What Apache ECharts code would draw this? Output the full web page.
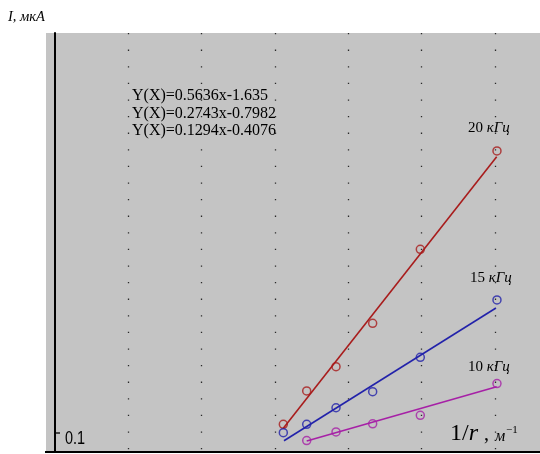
<!DOCTYPE html>
<html><head><meta charset="utf-8">
<script src="https://cdn.jsdelivr.net/npm/echarts@6/dist/echarts.min.js"></script>
<style>html,body{margin:0;padding:0;background:#fff}#c{width:540px;height:454px}</style>
</head><body><div id="c"></div>
<script>
// Measured points (x = 1/r, m^-1 ; y = I, µA)
const xRB = [3.115, 3.434, 3.834, 4.334, 4.984, 6.03];
const xM = [3.434, 3.834, 4.334, 4.984, 6.03];
const red = [0.099, 0.302, 0.450, 0.714, 1.164, 1.763];
const blue = [0.048, 0.099, 0.200, 0.298, 0.507, 0.856];
const magenta = [0.000, 0.053, 0.102, 0.154, 0.347];
// Fitted-line end points
const fitRedX = [3.115, 6.026], fitRed = [0.075, 1.728];
const fitBlueX = [3.124, 6.016], fitBlue = [-0.001, 0.807];
const fitMagX = [3.434, 6.026], fitMag = [-0.002, 0.328];
const equations = ['Y(X)=0.5636x-1.635', 'Y(X)=0.2743x-0.7982', 'Y(X)=0.1294x-0.4076'];
const freqNums = ['20', '15', '10'];
const freqUnit = 'кГц';
const yTickLabel = '0.1';
const yTitle = 'I, мкА';

const colors = ['#a81c1c', '#2222aa', '#a620a6'];
const serif = '"Liberation Serif","Times New Roman",serif';
const pts = (xs, ys) => xs.map((x, i) => [x, ys[i]]);

const chart = echarts.init(document.getElementById('c'), null, {renderer: 'canvas'});

const scatter = (data, c, name) => ({
  type: 'scatter', name, data, symbol: 'circle', symbolSize: 8, z: 4,
  itemStyle: {color: 'rgba(0,0,0,0)', borderColor: c, borderWidth: 1.5},
  emphasis: {disabled: true}
});
const fit = (data, c) => ({
  type: 'line', data, symbol: 'none', z: 3,
  lineStyle: {color: c, width: 1.6}, emphasis: {disabled: true}
});

const labelY = [128.2, 278.5, 367.2];
const labelX = [468, 470, 468];

const graphics = [
  {type: 'rect', z: -1, shape: {x: 46, y: 33, width: 10, height: 419}, style: {fill: '#c4c4c4'}},
  {type: 'line', z: 10, shape: {x1: 45, y1: 452, x2: 56, y2: 452}, style: {stroke: '#000', lineWidth: 2}},
  {type: 'line', z: 10, shape: {x1: 55, y1: 433, x2: 60, y2: 433}, style: {stroke: '#000', lineWidth: 1.3}},
  {type: 'text', x: 65, y: 439, scaleX: 0.76, style: {text: yTickLabel, font: '19px "Liberation Sans",Arial,sans-serif', fill: '#000', verticalAlign: 'middle'}},
  {type: 'text', x: 8, y: 17, style: {text: yTitle, font: 'italic 14.5px ' + serif, fill: '#000', verticalAlign: 'middle'}},
  {type: 'text', x: 450, y: 434, style: {
    text: '{a|1/}{b|r}', verticalAlign: 'middle', fill: '#000',
    rich: {a: {fontFamily: serif, fontSize: 24, fill: '#000'}, b: {fontFamily: serif, fontStyle: 'italic', fontSize: 24, fill: '#000'}}
  }},
  {type: 'text', x: 484, y: 435, style: {text: ',', font: '20px ' + serif, fill: '#000', verticalAlign: 'middle'}},
  {type: 'text', x: 495, y: 437, style: {text: 'м', font: 'italic 16px ' + serif, fill: '#000', verticalAlign: 'middle'}},
  {type: 'text', x: 506, y: 430, style: {text: '−1', font: '11px ' + serif, fill: '#000', verticalAlign: 'middle'}}
];
equations.forEach((t, i) => graphics.push({
  type: 'text', x: 132, y: 96 + i * 17.6,
  style: {text: t, font: '16px ' + serif, fill: '#000', verticalAlign: 'middle'}
}));
freqNums.forEach((n, i) => graphics.push({
  type: 'text', x: labelX[i], y: labelY[i],
  style: {
    text: '{a|' + n + ' }{b|' + freqUnit + '}', verticalAlign: 'middle', fill: '#000',
    rich: {a: {fontFamily: serif, fontSize: 15, fill: '#000'}, b: {fontFamily: serif, fontStyle: 'italic', fontSize: 15, fill: '#000'}}
  }
}));

chart.setOption({
  animation: false,
  backgroundColor: '#ffffff',
  grid: {left: 55, right: 0, top: 33, bottom: 2, show: true, backgroundColor: '#c4c4c4', borderWidth: 0},
  xAxis: {
    type: 'value', min: 0, max: 6.617, interval: 1,
    axisLabel: {show: false}, axisTick: {show: false},
    axisLine: {show: true, onZero: false, lineStyle: {color: '#000', width: 2}},
    splitLine: {show: true, showMinLine: false, showMaxLine: false, lineStyle: {color: '#2a2a2a', width: 1.3, type: [1.3, 15.3]}}
  },
  yAxis: {
    type: 'value', min: -0.0694, max: 2.481,
    axisLabel: {show: false}, axisTick: {show: false}, splitLine: {show: false},
    axisLine: {show: true, onZero: false, lineStyle: {color: '#000', width: 2}}
  },
  series: [
    fit(pts(fitRedX, fitRed), colors[0]),
    fit(pts(fitBlueX, fitBlue), colors[1]),
    fit(pts(fitMagX, fitMag), colors[2]),
    scatter(pts(xRB, red), colors[0], '20 кГц'),
    scatter(pts(xRB, blue), colors[1], '15 кГц'),
    scatter(pts(xM, magenta), colors[2], '10 кГц')
  ],
  graphic: graphics
});
</script>
</body></html>
